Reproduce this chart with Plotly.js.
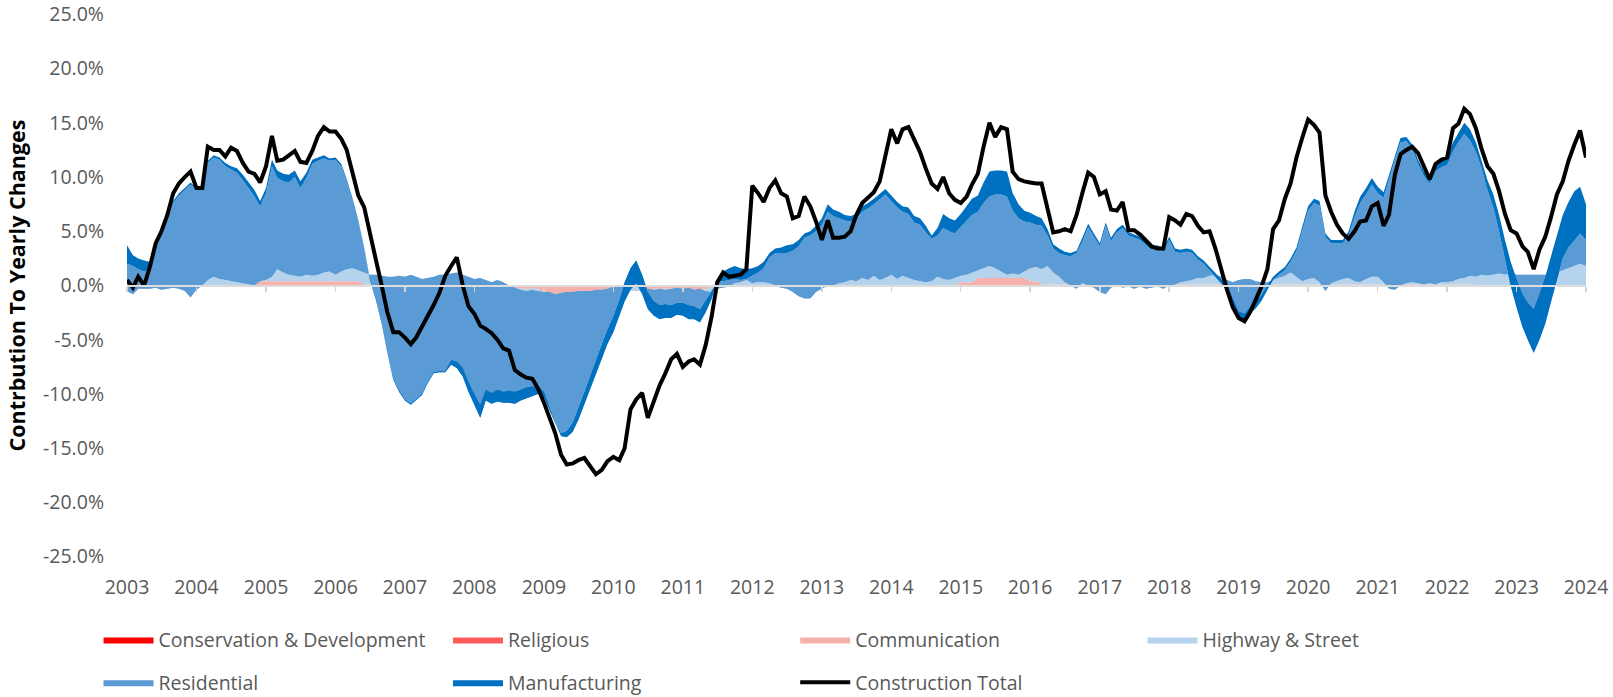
<!DOCTYPE html>
<html>
<head>
<meta charset="utf-8">
<script src="https://cdn.plot.ly/plotly-3.0.1.min.js"></script>
<style>
html,body{margin:0;padding:0;background:#ffffff;}
#chart{width:1613px;height:697px;}
</style>
</head>
<body>
<div id="chart"></div>
<script>
// ---------- categories ----------
const yearLabels = ['2003','2004','2005','2006','2007','2008','2009','2010','2011','2012','2013','2014','2015','2016','2017','2018','2019','2020','2021','2022','2023','2024'];
const firstYear = 2003;
const monthCount = 253; // Jan 2003 .. Jan 2024

const yTickValues = [-25,-20,-15,-10,-5,0,5,10,15,20,25];
const yTickLabels = ['-25.0%','-20.0%','-15.0%','-10.0%','-5.0%','0.0%','5.0%','10.0%','15.0%','20.0%','25.0%'];

// ---------- series values (contribution, percentage points), one row per year ----------
const conservation = [
0,0,0,0,0,0,0,0,0,0,0,0,
0,0,0,0,0,0,0,0,0,0,0,0,
0,0,0,0,0,0,0,0,0,0,0,0,
0,0,0,0,0,0,0,0,0,0,0,0,
0,0,0,0,0,0,0,0,0,0,0,0,
0,0,0,0,0,0,0,0,0,0,0,0,
0,0,0,0,0,0,0,0,0,0,0,0,
0,0,0,0,0,0,0,0,0,0,0,0,
0,0,0,0,0,0,0,0,0,0,0,0,
0,0,0,0,0,0,0,0,0,0,0,0,
0,0,0,0,0,0,0,0,0,0,0,0,
0,0,0,0,0,0,0,0,0,0,0,0,
0,0,0,0,0,0,0,0,0,0,0,0,
0,0,0,0,0,0,0,0,0,0,0,0,
0,0,0,0,0,0,0,0,0,0,0,0,
0,0,0,0,0,0,0,0,0,0,0,0,
0,0,0,0,0,0,0,0,0,0,0,0,
0,0,0,0,0,0,0,0,0,0,0,0,
0,0,0,0,0,0,0,0,0,0,0,0,
0,0,0,0,0,0,-0.1,-0.1,-0.1,-0.1,-0.1,-0.1,
-0.1,-0.1,-0.1,-0.1,-0.1,-0.1,-0.1,-0.1,-0.1,-0.1,-0.1,-0.1,
-0.1
];

const religious = [
0,0,0,0,0,0,0,0,0,0,0,0,
0,0,0,0,0,0,0,0,0,0,0,0,
0,0,0,0,0,0,0,0,0,0,0,0,
0,0,0,0,0,0,0,0,0,0,0,0,
0,0,0,0,0,0,0,0,0,0,0,0,
0,0,0,0,0,0,0,0,0,0,0,0,
0,0,0,0,0,0,0,0,0,0,0,0,
0,0,0,0,0,0,0,0,0,0,0,0,
-0.1,-0.1,-0.1,-0.1,-0.1,-0.1,-0.1,-0.1,-0.1,-0.1,-0.1,-0.1,
-0.1,-0.1,-0.1,-0.1,-0.1,-0.1,-0.1,-0.1,-0.1,-0.1,-0.1,-0.1,
0,0,0,0,0,0,0,0,0,0,0,0,
0,0,0,0,0,0,0,0,0,0,0,0,
0,0,0,0,0,0,0,0,0,0,0,0,
0,0,0,0,0,0,0,0,0,0,0,0,
0,0,0,0,0,0,0,0,0,0,0,0,
0,0,0,0,0,0,0,0,0,0,0,0,
0,0,0,0,0,0,0,0,0,0,0,0,
0,0,0,0,0,0,0,0,0,0,0,0,
0,0,0,0,0,0,0,0,0,0,0,0,
0,0,0,0,0,0,0,0,0,0,0,0,
0,0,0,0,0,0,0,0,0,0,0,0,
0
];

const communication = [
0,0,0,0,0,0,0,0,0,0,0,0,
0,0,0,0,0,0,0,0,0,0,0,0.4,
0.4,0.4,0.4,0.4,0.4,0.4,0.4,0.4,0.4,0.4,0.4,0.4,
0.4,0.4,0.4,0.4,0.4,0.1,0.1,0.1,0.1,0.1,0.1,0.1,
0.1,0.1,0.1,0.1,0.1,0.1,0.1,0.1,0.1,0.1,0.1,0.1,
-0.1,-0.1,-0.1,-0.1,-0.1,-0.1,-0.1,-0.3,-0.3,-0.3,-0.3,-0.3,
-0.8,-0.8,-0.8,-0.8,-0.8,-0.8,-0.8,-0.8,-0.8,-0.8,-0.8,-0.8,
-0.5,-0.5,-0.5,-0.5,-0.5,-0.5,-0.5,-0.3,-0.3,-0.3,-0.3,-0.3,
-0.3,-0.3,-0.3,-0.3,-0.3,0,0,0,0,0,0,0,
0,0,0,0,0,0,0,0,0,0,0,0,
0,0,0,0,0,0,0,0,0,0,0,0,
0,0,0,0,0,0,0,0,0,0,0,0,
0.3,0.3,0.3,0.7,0.7,0.7,0.7,0.7,0.7,0.7,0.7,0.7,
0.4,0.4,0.1,0.1,0.1,0.1,0.1,0.1,0.1,0.1,0.1,0.1,
0.1,0.1,0.1,0.1,0.1,0.1,0.1,0.1,0.1,0.1,0.1,0.1,
0.1,0.1,0.1,0.1,0.1,0.1,0.1,0.1,0.1,0.1,0.1,0.1,
0.1,0.1,0.1,0.1,0.1,0.1,0.1,0.1,0.1,0.1,0.1,0.1,
0.1,0.1,0.1,0.1,0.1,0.1,0.1,0.1,0.1,0.1,0.1,0.1,
0.1,0.1,0.1,0.1,0.1,0.1,0.1,0.1,0.1,0.1,0.1,0.1,
0.1,0.1,0.1,0.1,0.1,0.1,0.1,0.1,0.1,0.1,0.1,0.1,
0.1,0.1,0.1,0.1,0.1,0.1,0.1,0.1,0.1,0.1,0.1,0.1,
0.1
];

const highway = [
-0.5,-0.8,-0.3,-0.3,-0.3,-0.2,-0.4,-0.3,-0.2,-0.3,-0.5,-1.1,
-0.4,0.0,0.5,0.8,0.6,0.5,0.4,0.3,0.2,0.1,0.0,0.0,
0.1,0.4,1.1,0.8,0.6,0.5,0.4,0.6,0.5,0.6,0.8,0.9,
0.6,0.9,1.1,1.2,1.0,1.1,0.9,0.9,0.8,0.7,0.7,0.8,
0.7,0.9,0.7,0.5,0.6,0.7,0.9,0.9,1.0,1.1,0.9,0.7,
0.7,0.8,0.6,0.4,0.6,0.4,0.1,0.1,-0.1,-0.2,-0.1,-0.2,
0.2,0.2,0.0,0.1,0.2,0.2,0.3,0.3,0.3,0.4,0.4,0.5,
0.4,0.5,0.5,0.6,0.6,0.3,0.2,-0.1,0.0,-0.1,0.0,0.1,
0.1,0.2,0.0,0.1,-0.1,-0.5,-0.2,-0.1,0.0,0.3,0.4,0.6,
0.3,0.4,0.4,0.3,0.1,-0.1,-0.2,-0.5,-0.9,-1.1,-1.1,-0.5,
-0.3,0.0,0.0,0.2,0.3,0.5,0.4,0.7,0.5,0.9,0.5,0.7,
1.0,0.6,0.9,0.7,0.5,0.4,0.3,0.4,0.8,0.6,0.5,0.7,
0.6,0.7,0.9,0.7,0.9,1.1,0.9,0.6,0.3,0.4,0.3,0.6,
1.2,1.3,1.4,1.7,1.1,0.7,0.2,-0.1,-0.4,0.1,-0.1,-0.3,
-0.7,-0.9,-0.3,0.0,-0.3,-0.2,-0.4,-0.2,-0.4,-0.3,-0.2,-0.4,
-0.1,0.0,0.2,0.3,0.4,0.6,0.6,0.8,0.9,0.7,0.4,0.2,
0.4,0.5,0.5,0.3,0.2,0.2,0.4,0.6,0.8,1.1,0.7,0.3,
0.5,0.6,0.2,-0.6,0.1,0.3,0.5,0.6,0.3,0.2,0.5,0.7,
0.7,0.2,-0.4,-0.5,-0.1,0.1,0.2,0.1,0.0,0.1,0.0,0.2,
0.2,0.3,0.5,0.6,0.8,0.7,1.0,0.9,1.0,1.1,1.0,1.2,
1.0,1.0,1.0,1.0,1.0,1.0,1.0,1.2,1.4,1.6,1.8,2.0,
1.8
];

const residential = [
2.5,2.6,1.8,1.6,1.8,3.5,5.2,6.4,7.8,8.6,9.3,10.4,
9.2,9.0,10.8,11.0,11.0,10.5,10.3,10.1,9.5,8.9,8.2,6.9,
8.0,10.2,8.4,8.4,8.5,9.1,8.2,8.9,10.3,10.5,10.5,10.2,
10.6,9.7,8.1,6.2,4.4,2.2,-0.5,-2.3,-4.4,-7.0,-9.5,-10.7,
-11.4,-12.0,-11.4,-10.7,-9.7,-8.9,-9.0,-9.0,-8.4,-8.8,-9.4,-10.6,
-11.6,-12.9,-11.1,-11.2,-11.2,-11.1,-10.8,-10.7,-10.2,-9.9,-9.8,-9.5,
-9.7,-11.0,-11.9,-12.9,-12.8,-12.0,-10.8,-9.3,-7.8,-6.4,-5.0,-3.7,
-2.7,-1.3,0.3,1.5,2.2,1.2,-0.3,-1.0,-1.5,-1.3,-1.5,-1.4,
-1.3,-1.6,-1.5,-1.9,-0.9,0.1,0.6,0.6,0.6,0.4,0.2,0.1,
0.7,0.9,1.3,2.4,3.0,3.2,3.3,3.8,4.6,5.6,5.8,5.6,
5.9,6.8,6.4,6.0,5.7,5.4,5.7,6.1,6.6,6.6,7.5,7.7,
6.8,6.6,5.9,5.9,5.3,5.2,4.6,3.9,3.8,4.7,4.5,4.1,
4.5,5.0,5.3,5.4,6.0,6.4,6.8,7.1,7.2,5.8,5.2,4.6,
4.2,3.9,4.0,2.8,2.2,2.2,2.5,2.7,3.3,3.8,5.4,4.7,
4.2,6.3,4.3,4.8,5.5,4.7,4.7,4.3,4.0,3.5,3.5,3.4,
4.2,3.0,2.7,2.7,2.5,1.7,1.3,0.5,-0.2,-0.6,-1.0,-2.1,
-3.5,-3.9,-3.2,-2.5,-1.7,-0.7,0.0,0.3,0.5,1.0,2.4,4.6,
6.3,6.9,7.1,5.0,3.7,3.5,3.3,3.9,5.9,7.3,7.8,8.5,
7.7,7.8,10.1,12.0,13.2,13.1,12.3,11.0,10.0,9.2,10.4,10.6,
10.8,12.0,12.6,13.3,12.5,11.5,9.8,7.9,6.2,3.9,1.4,-1.2,
-3.0,-4.8,-6.0,-7.2,-6.0,-4.5,-2.5,-0.7,1.1,1.9,2.4,2.8,
2.4
];

const manufacturing = [
1.7,1.0,1.0,1.0,0.7,0.2,0.2,0.2,0.2,0.2,0.2,0.2,
0.2,0.2,0.2,0.2,0.2,0.3,0.3,0.4,0.5,0.5,0.6,0.5,
0.5,0.6,0.7,0.7,0.7,0.6,0.6,0.5,0.4,0.3,0.3,0.2,
0.2,0.2,0.2,0.2,0.2,0.1,0.1,0.1,0.1,0.1,0.1,0.1,
0.1,0.1,0.1,0.1,0.1,0.1,0.1,0.1,0.4,0.6,0.8,0.9,
1.0,1.2,1.0,1.0,1.1,1.0,1.1,1.1,1.0,1.0,0.9,0.7,
0.5,0.3,0.0,-0.3,-0.6,-0.9,-1.1,-1.2,-1.3,-1.3,-1.4,-1.4,
-1.5,-1.6,-1.8,-2.0,-2.1,-1.8,-1.6,-1.4,-1.3,-1.3,-1.2,-1.1,
-1.2,-1.3,-1.2,-1.2,-1.1,-0.8,0.3,0.9,1.1,1.2,1.1,0.9,
0.7,0.6,0.6,0.4,0.4,0.5,0.7,0.6,0.6,0.4,0.4,0.5,
0.6,0.7,0.6,0.6,0.5,0.5,0.5,0.5,0.5,0.5,0.5,0.5,
0.5,0.5,0.5,0.6,0.6,0.6,0.6,0.3,0.7,1.3,1.2,1.2,
1.2,1.4,1.5,1.5,1.9,2.3,2.2,2.2,2.3,1.6,1.3,1.0,
0.9,0.8,0.7,0.6,0.4,0.4,0.3,0.3,0.2,0.4,0.3,0.3,
0.3,0.3,0.3,0.3,0.3,0.3,0.3,0.3,0.3,0.3,0.3,0.3,
0.3,0.3,0.3,0.3,0.3,0.3,0.3,0.3,0.3,0.4,0.5,0.6,
0.6,0.7,0.6,0.6,0.5,0.4,0.3,0.3,0.3,0.3,0.3,0.4,
0.4,0.4,0.4,0.3,0.3,0.3,0.3,0.4,0.5,0.6,0.6,0.6,
0.6,0.5,0.4,0.4,0.4,0.4,0.4,0.4,0.4,0.4,0.5,0.6,
0.7,0.8,0.9,1.0,1.0,0.9,0.7,0.9,1.2,1.5,1.8,2.2,
2.6,3.0,3.4,4.0,4.2,4.3,4.2,4.2,4.0,4.2,4.5,4.3,
3.3
];

const constructionTotal = [
0.5,-0.2,0.8,0.0,1.7,3.9,5.0,6.5,8.5,9.4,10.0,10.5,
9.0,9.0,12.8,12.5,12.5,11.9,12.7,12.4,11.3,10.5,10.3,9.5,
11.0,13.8,11.5,11.6,12.0,12.4,11.4,11.3,12.4,13.8,14.6,14.2,
14.2,13.5,12.5,10.3,8.3,7.2,4.7,2.4,0.0,-2.5,-4.3,-4.3,
-4.8,-5.4,-4.8,-3.8,-2.9,-1.8,-0.7,0.9,1.8,2.6,0.0,-1.9,
-2.6,-3.7,-4.0,-4.4,-5.0,-5.8,-6.0,-7.8,-8.2,-8.5,-8.6,-9.5,
-10.8,-12.3,-13.6,-15.6,-16.5,-16.4,-16.1,-15.9,-16.6,-17.4,-17.0,-16.2,
-15.8,-16.1,-15.0,-11.4,-10.5,-9.9,-12.2,-10.6,-9.2,-8.1,-6.8,-6.3,
-7.5,-7.0,-6.8,-7.3,-5.5,-2.9,0.3,1.2,0.8,0.9,1.0,1.5,
9.2,8.5,7.7,9.0,9.7,8.5,8.2,6.2,6.4,8.2,7.3,5.9,
4.2,6.0,4.4,4.4,4.5,5.0,6.5,7.6,8.1,8.6,9.6,12.0,
14.4,13.1,14.4,14.6,13.5,12.3,10.8,9.4,8.9,10.0,8.5,7.9,
7.6,8.2,9.3,10.3,12.8,15.0,13.7,14.6,14.4,10.5,9.8,9.6,
9.5,9.4,9.4,7.0,4.9,5.0,5.2,5.0,6.5,8.5,10.4,10.0,
8.4,8.7,7.0,6.9,7.7,5.1,5.1,4.7,4.2,3.6,3.4,3.4,
6.3,6.0,5.6,6.6,6.4,5.5,4.9,5.0,3.4,1.5,-0.4,-2.0,
-3.0,-3.3,-2.5,-1.3,-0.1,1.5,5.2,6.0,8.0,9.4,11.8,13.6,
15.3,14.8,14.1,8.3,6.8,5.6,4.8,4.3,5.0,5.9,6.0,7.3,
7.6,5.5,6.5,10.2,12.1,12.5,12.8,12.2,11.0,9.8,11.2,11.6,
11.8,14.5,14.9,16.3,15.8,14.5,12.6,11.0,10.3,8.7,6.6,5.1,
4.8,3.6,3.1,1.5,3.3,4.5,6.3,8.4,9.6,11.5,13.0,14.3,
11.8
];

// ---------- build month dates (category axis) ----------
const months = [];
for (let i = 0; i < monthCount; i++) {
  const y = firstYear + Math.floor(i / 12);
  const m = (i % 12) + 1;
  months.push(y + '-' + String(m).padStart(2, '0') + '-01');
}
const yearDates = yearLabels.map(y => y + '-01-01');

// ---------- styles ----------
const FONT = 'Open Sans, Arial, sans-serif';
const GREY = '#595959';
const colors = {
  conservation: '#FF0000',
  religious: '#FF5A5A',
  communication: '#F6B1AC',
  highway: '#B6D3EE',
  residential: '#5B9BD5',
  manufacturing: '#0070C0',
  total: '#000000'
};

function area(name, values, color, legendId) {
  return {
    type: 'scatter', mode: 'lines', name: name,
    x: months, y: values,
    stackgroup: 'stack',
    line: {width: 0, color: color},
    fillcolor: color,
    legend: legendId, legendgroup: name,
    hoverinfo: 'skip'
  };
}

const traces = [
  area('Conservation & Development', conservation, colors.conservation, 'legend'),
  area('Religious', religious, colors.religious, 'legend2'),
  area('Communication', communication, colors.communication, 'legend3'),
  area('Highway & Street', highway, colors.highway, 'legend4'),
  area('Residential', residential, colors.residential, 'legend'),
  area('Manufacturing', manufacturing, colors.manufacturing, 'legend2'),
  {
    type: 'scatter', mode: 'lines', name: 'Construction Total',
    x: months, y: constructionTotal,
    xaxis: 'x2', yaxis: 'y',
    line: {color: colors.total, width: 4},
    legend: 'legend3', legendgroup: 'Construction Total',
    hoverinfo: 'skip'
  }
];

function legendAt(x) {
  return {
    orientation: 'v', x: x, xanchor: 'left', y: -0.1165, yanchor: 'top',
    bgcolor: 'rgba(0,0,0,0)', borderwidth: 0,
    font: {family: FONT, size: 19.5, color: GREY},
    itemwidth: 50, traceorder: 'grouped', tracegroupgap: 14.5
  };
}

const xRange = ['2003-01-01', '2024-01-01'];

const layout = {
  width: 1613, height: 697,
  paper_bgcolor: '#ffffff', plot_bgcolor: '#ffffff',
  margin: {l: 127, r: 27, t: 14, b: 140, autoexpand: false},
  showlegend: true,
  font: {family: FONT, color: GREY},
  xaxis: {
    type: 'date', range: xRange,
    tickmode: 'array', tickvals: yearDates, ticktext: yearLabels,
    showgrid: false, zeroline: false, showline: false, ticks: '',
    ticklabelstandoff: 16,
    tickfont: {family: FONT, size: 19.5, color: GREY}
  },
  xaxis2: {
    type: 'date', range: xRange, overlaying: 'x', anchor: 'free', position: 0.5,
    tickmode: 'array', tickvals: yearDates, showticklabels: false,
    ticks: 'outside', ticklen: 5, tickwidth: 1.5, tickcolor: '#D4D4D4',
    showline: true, linecolor: '#DCDCDC', linewidth: 2.5,
    showgrid: false, zeroline: false, layer: 'above traces', side: 'bottom'
  },
  yaxis: {
    range: [-25.03, 25.03],
    tickmode: 'array', tickvals: yTickValues, ticktext: yTickLabels,
    showgrid: false, zeroline: false, showline: false, ticks: '',
    ticklabelstandoff: 22,
    tickfont: {family: FONT, size: 19.5, color: GREY},
    title: {text: 'Contrbution To Yearly Changes', standoff: 11,
            font: {family: FONT, size: 21.5, color: '#000000', weight: 'bold'}}
  },
  legend: legendAt(-0.0195),
  legend2: legendAt(0.220),
  legend3: legendAt(0.458),
  legend4: legendAt(0.696)
};

Plotly.newPlot('chart', traces, layout, {displayModeBar: false, staticPlot: true});
</script>
</body>
</html>
